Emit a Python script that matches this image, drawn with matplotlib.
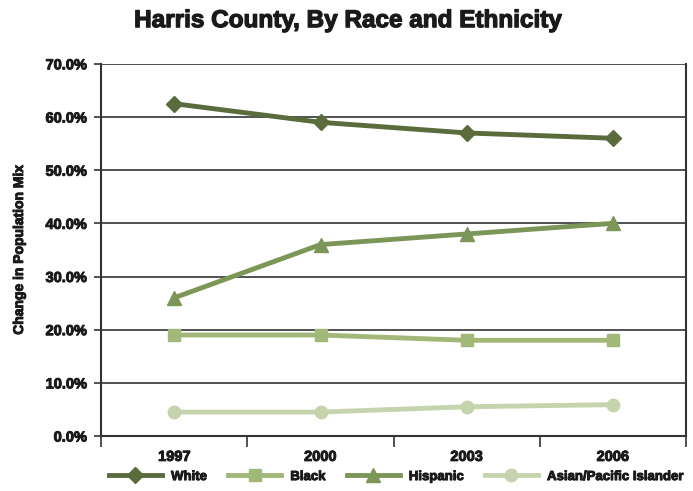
import matplotlib.pyplot as plt
import matplotlib.patheffects as pe
import numpy as np

years = ["1997", "2000", "2003", "2006"]
white = [62.5, 59.0, 57.0, 56.0]
black = [19.0, 19.0, 18.0, 18.0]
hispanic = [26.0, 36.0, 38.0, 40.0]
asian = [4.5, 4.5, 5.5, 5.9]

plt.rcParams['font.family'] = ['Liberation Sans', 'DejaVu Sans']
plt.rcParams['font.weight'] = 'bold'
# thicken glyphs a little to look like a black-weight face
heavy = [pe.withStroke(linewidth=0.7, foreground='#1a1a1a')]

fig = plt.figure(figsize=(6.93, 4.91), dpi=100)
ax = fig.add_axes([0.146, 0.112, 0.844, 0.758])

x = np.arange(len(years))
ax.plot(x, white, color='#5a6b3c', lw=3.5, marker='D', ms=8, label='White', zorder=4)
ax.plot(x, black, color='#a2b878', lw=3.5, marker='s', ms=9, label='Black', zorder=3)
ax.plot(x, hispanic, color='#7c9658', lw=3.5, marker='^', ms=10, label='Hispanic', zorder=3)
ax.plot(x, asian, color='#c6d4ae', lw=3.5, marker='o', ms=9, label='Asian/Pacific Islander', zorder=3)

ax.set_xlim(-0.5, 3.5)
ax.set_ylim(0, 70)
ax.set_yticks(np.arange(0, 71, 10))
ax.set_yticklabels([f"{v:.1f}%" for v in range(0, 71, 10)], fontsize=10.5, fontweight='bold',
                   color='#1a1a1a')
ax.yaxis.grid(True, color='#333333', lw=1.2)
ax.set_axisbelow(True)

ax.set_xticks(x)
ax.set_xticklabels(years, fontsize=10.5, fontweight='bold', color='#1a1a1a')
ax.tick_params(axis='x', length=0, pad=10)
ax.set_xticks(np.arange(-0.5, 3.6, 1), minor=True)
ax.tick_params(axis='x', which='minor', length=8, width=1.2, color='#333333', direction='out')
ax.tick_params(axis='y', length=5, width=1.2, color='#333333', pad=5)
for t in ax.get_xticklabels() + ax.get_yticklabels():
    t.set_path_effects(heavy)

ax.spines['top'].set_visible(False)
for s in ['left', 'right', 'bottom']:
    ax.spines[s].set_color('#333333')
    ax.spines[s].set_linewidth(1.5)

ax.set_ylabel("Change in Population Mix", fontsize=10, fontweight='bold', labelpad=14,
              color='#1a1a1a', path_effects=heavy)

fig.text(0.502, 0.958, "Harris County, By Race and Ethnicity", ha='center', va='center',
         fontsize=17.5, fontweight='bold', color='#1a1a1a',
         path_effects=[pe.withStroke(linewidth=0.9, foreground='#1a1a1a')])

leg = ax.legend(loc='center', bbox_to_anchor=(0.505, -0.11), ncol=4, frameon=False,
                handlelength=4.0, columnspacing=1.6, handletextpad=0.7, borderpad=0,
                prop={'weight': 'bold', 'size': 9.5})
for t in leg.get_texts():
    t.set_color('#1a1a1a')
    t.set_path_effects(heavy)

fig.savefig("out.png", dpi=100)
